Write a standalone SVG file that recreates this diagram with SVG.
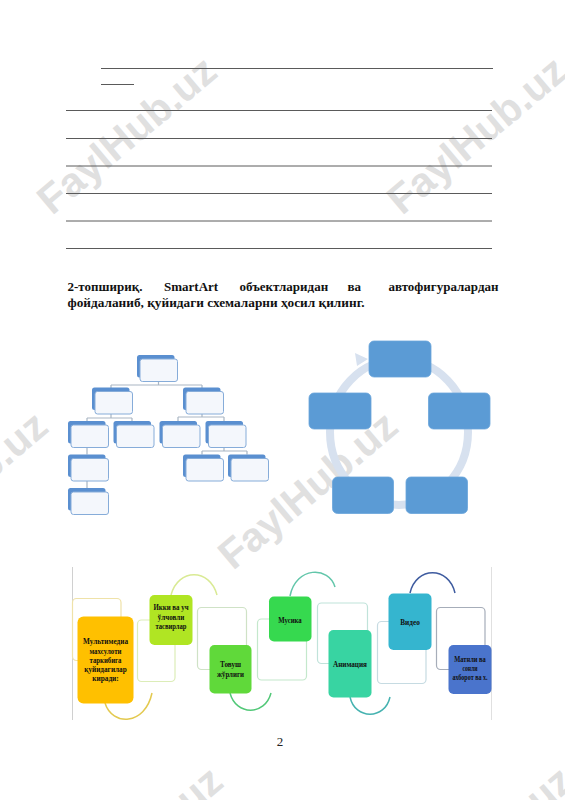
<svg xmlns="http://www.w3.org/2000/svg" width="565" height="800" viewBox="0 0 565 800">
<defs>
<style>
.rule{stroke:#5a5a5a;stroke-width:1;fill:none}
.title{font-family:"Liberation Serif","Times New Roman",serif;font-weight:bold;font-size:13px;fill:#111}
.wm{font-family:"Liberation Sans",Arial,sans-serif;font-weight:bold;font-size:41px;fill:#e0e0e0}
.tback{fill:#5a8fd0}
.tfront{fill:#f4f7fc;stroke:#86acd9;stroke-width:1}
.tcon{stroke:#a9b6c4;stroke-width:1.2;fill:none}
.cbox{fill:#5b9bd5;stroke:#6aa5da;stroke-width:0.8}
.outl{fill:#ffffff;stroke-width:1.2}
.bt{font-family:"Liberation Serif","Times New Roman",serif;font-weight:bold;font-size:8.5px;fill:#111;text-anchor:middle}
.arc{fill:none;stroke-width:1.5}
</style>
<linearGradient id="tg" x1="0" y1="0" x2="0" y2="1">
<stop offset="0" stop-color="#ffffff"/>
<stop offset="1" stop-color="#eaf0f8"/>
</linearGradient>
</defs>
<rect width="565" height="800" fill="#ffffff"/>

<!-- watermarks -->
<g id="watermarks">
<text class="wm" x="52" y="216" transform="rotate(-40 52 216)">FaylHub.uz</text>
<text class="wm" x="402" y="216" transform="rotate(-40 402 216)">FaylHub.uz</text>
<text class="wm" x="-117" y="571" transform="rotate(-40 -117 571)">FaylHub.uz</text>
<text class="wm" x="233" y="571" transform="rotate(-40 233 571)">FaylHub.uz</text>
<text class="wm" x="58" y="926" transform="rotate(-40 58 926)">FaylHub.uz</text>
<text class="wm" x="408" y="926" transform="rotate(-40 408 926)">FaylHub.uz</text>
</g>

<!-- ruled lines -->
<g id="rules">
<line class="rule" x1="101" y1="68.5" x2="493" y2="68.5"/>
<line class="rule" x1="101" y1="84.5" x2="134" y2="84.5"/>
<line class="rule" x1="66" y1="110.5" x2="492" y2="110.5"/>
<line class="rule" x1="66" y1="138.5" x2="492" y2="138.5"/>
<line class="rule" x1="66" y1="166" x2="492" y2="166"/>
<line class="rule" x1="66" y1="193.5" x2="492" y2="193.5"/>
<line class="rule" x1="66" y1="221" x2="492" y2="221"/>
<line class="rule" x1="66" y1="248.5" x2="492" y2="248.5"/>
</g>

<!-- task title -->
<g id="title">
<text class="title" x="67.5" y="291">2-топшириқ.</text>
<text class="title" x="164" y="291">SmartArt</text>
<text class="title" x="239.5" y="291">объектларидан</text>
<text class="title" x="347.5" y="291">ва</text>
<text class="title" x="498.5" y="291" text-anchor="end">автофигуралардан</text>
<text class="title" x="67.5" y="307" textLength="297" lengthAdjust="spacingAndGlyphs">фойдаланиб, қуйидаги схемаларни ҳосил қилинг.</text>
</g>

<!-- hierarchy diagram -->
<g id="tree-connectors">
<path class="tcon" d="M158.5,381.5 V385 M111,385 H202 M111,385 V388 M202,385 V388"/>
<path class="tcon" d="M111,414 V418 M87,418 H132 M87,418 V421 M132,418 V421"/>
<path class="tcon" d="M202,414 V417 M178,417 H224 M178,417 V421 M224,417 V421"/>
<path class="tcon" d="M87,447.5 V454.5 M87,481 V488"/>
<path class="tcon" d="M224,447.5 V451 M202,451 H247 M202,451 V454.5 M247,451 V454.5"/>
</g>
<g id="t-root"><rect class="tback" x="137" y="355" width="37.5" height="22.5" rx="2.5"/><rect class="tfront" fill="url(#tg)" x="140" y="359" width="37.5" height="22.5" rx="2.5"/></g>
<g id="t-l2a"><rect class="tback" x="92" y="387.5" width="37.5" height="22.5" rx="2.5"/><rect class="tfront" x="95" y="391.5" width="37.5" height="22.5" rx="2.5"/></g>
<g id="t-l2b"><rect class="tback" x="183" y="387.5" width="37.5" height="22.5" rx="2.5"/><rect class="tfront" x="186" y="391.5" width="37.5" height="22.5" rx="2.5"/></g>
<g id="t-l3a"><rect class="tback" x="68" y="421" width="37.5" height="22.5" rx="2.5"/><rect class="tfront" x="71" y="425" width="37.5" height="22.5" rx="2.5"/></g>
<g id="t-l3b"><rect class="tback" x="113.5" y="421" width="37.5" height="22.5" rx="2.5"/><rect class="tfront" x="116.5" y="425" width="37.5" height="22.5" rx="2.5"/></g>
<g id="t-l3c"><rect class="tback" x="159.5" y="421" width="37.5" height="22.5" rx="2.5"/><rect class="tfront" x="162.5" y="425" width="37.5" height="22.5" rx="2.5"/></g>
<g id="t-l3d"><rect class="tback" x="205.5" y="421" width="37.5" height="22.5" rx="2.5"/><rect class="tfront" x="208.5" y="425" width="37.5" height="22.5" rx="2.5"/></g>
<g id="t-l4a"><rect class="tback" x="68" y="454.5" width="37.5" height="22.5" rx="2.5"/><rect class="tfront" x="71" y="458.5" width="37.5" height="22.5" rx="2.5"/></g>
<g id="t-l5a"><rect class="tback" x="68" y="488" width="37.5" height="22.5" rx="2.5"/><rect class="tfront" x="71" y="492" width="37.5" height="22.5" rx="2.5"/></g>
<g id="t-l4b"><rect class="tback" x="183" y="454.5" width="37.5" height="22.5" rx="2.5"/><rect class="tfront" x="186" y="458.5" width="37.5" height="22.5" rx="2.5"/></g>
<g id="t-l4c"><rect class="tback" x="228" y="454.5" width="37.5" height="22.5" rx="2.5"/><rect class="tfront" x="231" y="458.5" width="37.5" height="22.5" rx="2.5"/></g>

<!-- cycle diagram -->
<g id="cycle-connectors">
<ellipse cx="399" cy="432" rx="69" ry="73" fill="none" stroke="#d7e1ef" stroke-width="8"/>
<path d="M355,353 L368,359 L357,366 Z" fill="#d7e1ef"/>
</g>
<g id="c-top"><rect class="cbox" x="369" y="341" width="62" height="36" rx="5"/></g>
<g id="c-right"><rect class="cbox" x="428.5" y="393" width="61.5" height="36" rx="5"/></g>
<g id="c-left"><rect class="cbox" x="309" y="393" width="62" height="36" rx="5"/></g>
<g id="c-bl"><rect class="cbox" x="332.5" y="477" width="61" height="36.5" rx="5"/></g>
<g id="c-br"><rect class="cbox" x="406" y="477" width="61.5" height="36.5" rx="5"/></g>

<!-- multimedia diagram -->
<g id="frame">
<line x1="72.5" y1="567" x2="72.5" y2="720" stroke="#d0d0d0" stroke-width="1"/>
<line x1="491.5" y1="567" x2="491.5" y2="720" stroke="#e0e0e0" stroke-width="1"/>
</g>
<g id="m-connectors">
<path class="arc" stroke="#e3c94f" d="M105,703 C112,726 145,726 152,693"/>
<path class="arc" stroke="#d9ea94" d="M171,595 C178,568 210,568 217,595"/>
<path class="arc" stroke="#52c878" d="M230,693 C236,716 265,716 271,693"/>
<path class="arc" stroke="#62c6aa" d="M290,596 C296,566 329,566 335,587"/>
<path class="arc" stroke="#45b2b0" d="M350,697 C355,720 385,720 390,697"/>
<path class="arc" stroke="#3e5b9f" d="M410,593 C416,566 449,566 455,593"/>
</g>
<g id="m1">
<rect class="outl" stroke="#efe2a8" x="72.5" y="598.5" width="48.5" height="62" rx="4"/>
<rect x="77.5" y="616.5" width="56" height="87" rx="6" fill="#ffc000"/>
<text class="bt" x="105.5" y="644" textLength="45" lengthAdjust="spacingAndGlyphs">Мультимедиа</text>
<text class="bt" x="105.5" y="653.5" textLength="32" lengthAdjust="spacingAndGlyphs">махсулоти</text>
<text class="bt" x="105.5" y="663" textLength="32" lengthAdjust="spacingAndGlyphs">таркибига</text>
<text class="bt" x="105.5" y="672" textLength="42.5" lengthAdjust="spacingAndGlyphs">қуйидагилар</text>
<text class="bt" x="105.5" y="681" textLength="26.5" lengthAdjust="spacingAndGlyphs">киради:</text>
</g>
<g id="m2">
<rect class="outl" stroke="#dcedb8" x="137.5" y="620" width="37.5" height="61.5" rx="4"/>
<rect x="149.5" y="595" width="43" height="50" rx="5" fill="#b0e523"/>
<text class="bt" x="171" y="609.5" textLength="35" lengthAdjust="spacingAndGlyphs">Икки ва уч</text>
<text class="bt" x="171" y="619.5" textLength="26.5" lengthAdjust="spacingAndGlyphs">ўлчовли</text>
<text class="bt" x="171" y="629" textLength="31" lengthAdjust="spacingAndGlyphs">тасвирлар</text>
</g>
<g id="m3">
<rect class="outl" stroke="#cfe2c6" x="197.5" y="607.5" width="49" height="62" rx="4"/>
<rect x="209.5" y="645" width="42" height="48.5" rx="5" fill="#60d93a"/>
<text class="bt" x="230.5" y="667" textLength="21" lengthAdjust="spacingAndGlyphs">Товуш</text>
<text class="bt" x="230.5" y="677" textLength="27" lengthAdjust="spacingAndGlyphs">жўрлиги</text>
</g>
<g id="m4">
<rect class="outl" stroke="#c4e8cc" x="257.5" y="619" width="49" height="61" rx="4"/>
<rect x="269" y="596.5" width="42.5" height="45" rx="5" fill="#36d94f"/>
<text class="bt" x="290" y="622.5" textLength="23.5" lengthAdjust="spacingAndGlyphs">Мусика</text>
</g>
<g id="m5">
<rect class="outl" stroke="#c0e3da" x="317.5" y="603" width="50" height="60.5" rx="4"/>
<rect x="328.5" y="630" width="43" height="67.5" rx="5" fill="#38d4a2"/>
<text class="bt" x="350" y="666.5" textLength="34" lengthAdjust="spacingAndGlyphs">Анимация</text>
</g>
<g id="m6">
<rect class="outl" stroke="#c6dbe2" x="377.5" y="621.5" width="48.5" height="62" rx="4"/>
<rect x="388.5" y="593.5" width="43" height="56.5" rx="5" fill="#35b5cf"/>
<text class="bt" x="410" y="624.5" textLength="19.5" lengthAdjust="spacingAndGlyphs">Видео</text>
</g>
<g id="m7">
<rect class="outl" stroke="#a6adb9" x="436.5" y="607.5" width="48.5" height="62" rx="4"/>
<rect x="448.5" y="645" width="43" height="49" rx="5" fill="#4a74cc"/>
<text class="bt" x="470" y="662" textLength="31.5" lengthAdjust="spacingAndGlyphs">Матнли ва</text>
<text class="bt" x="470" y="671" textLength="15" lengthAdjust="spacingAndGlyphs">сонли</text>
<text class="bt" x="470" y="680" textLength="35" lengthAdjust="spacingAndGlyphs">ахборот ва х.</text>
</g>

<!-- page number -->
<text x="280" y="745.5" text-anchor="middle" font-family="Liberation Serif, Times New Roman, serif" font-size="13" fill="#222">2</text>
</svg>
